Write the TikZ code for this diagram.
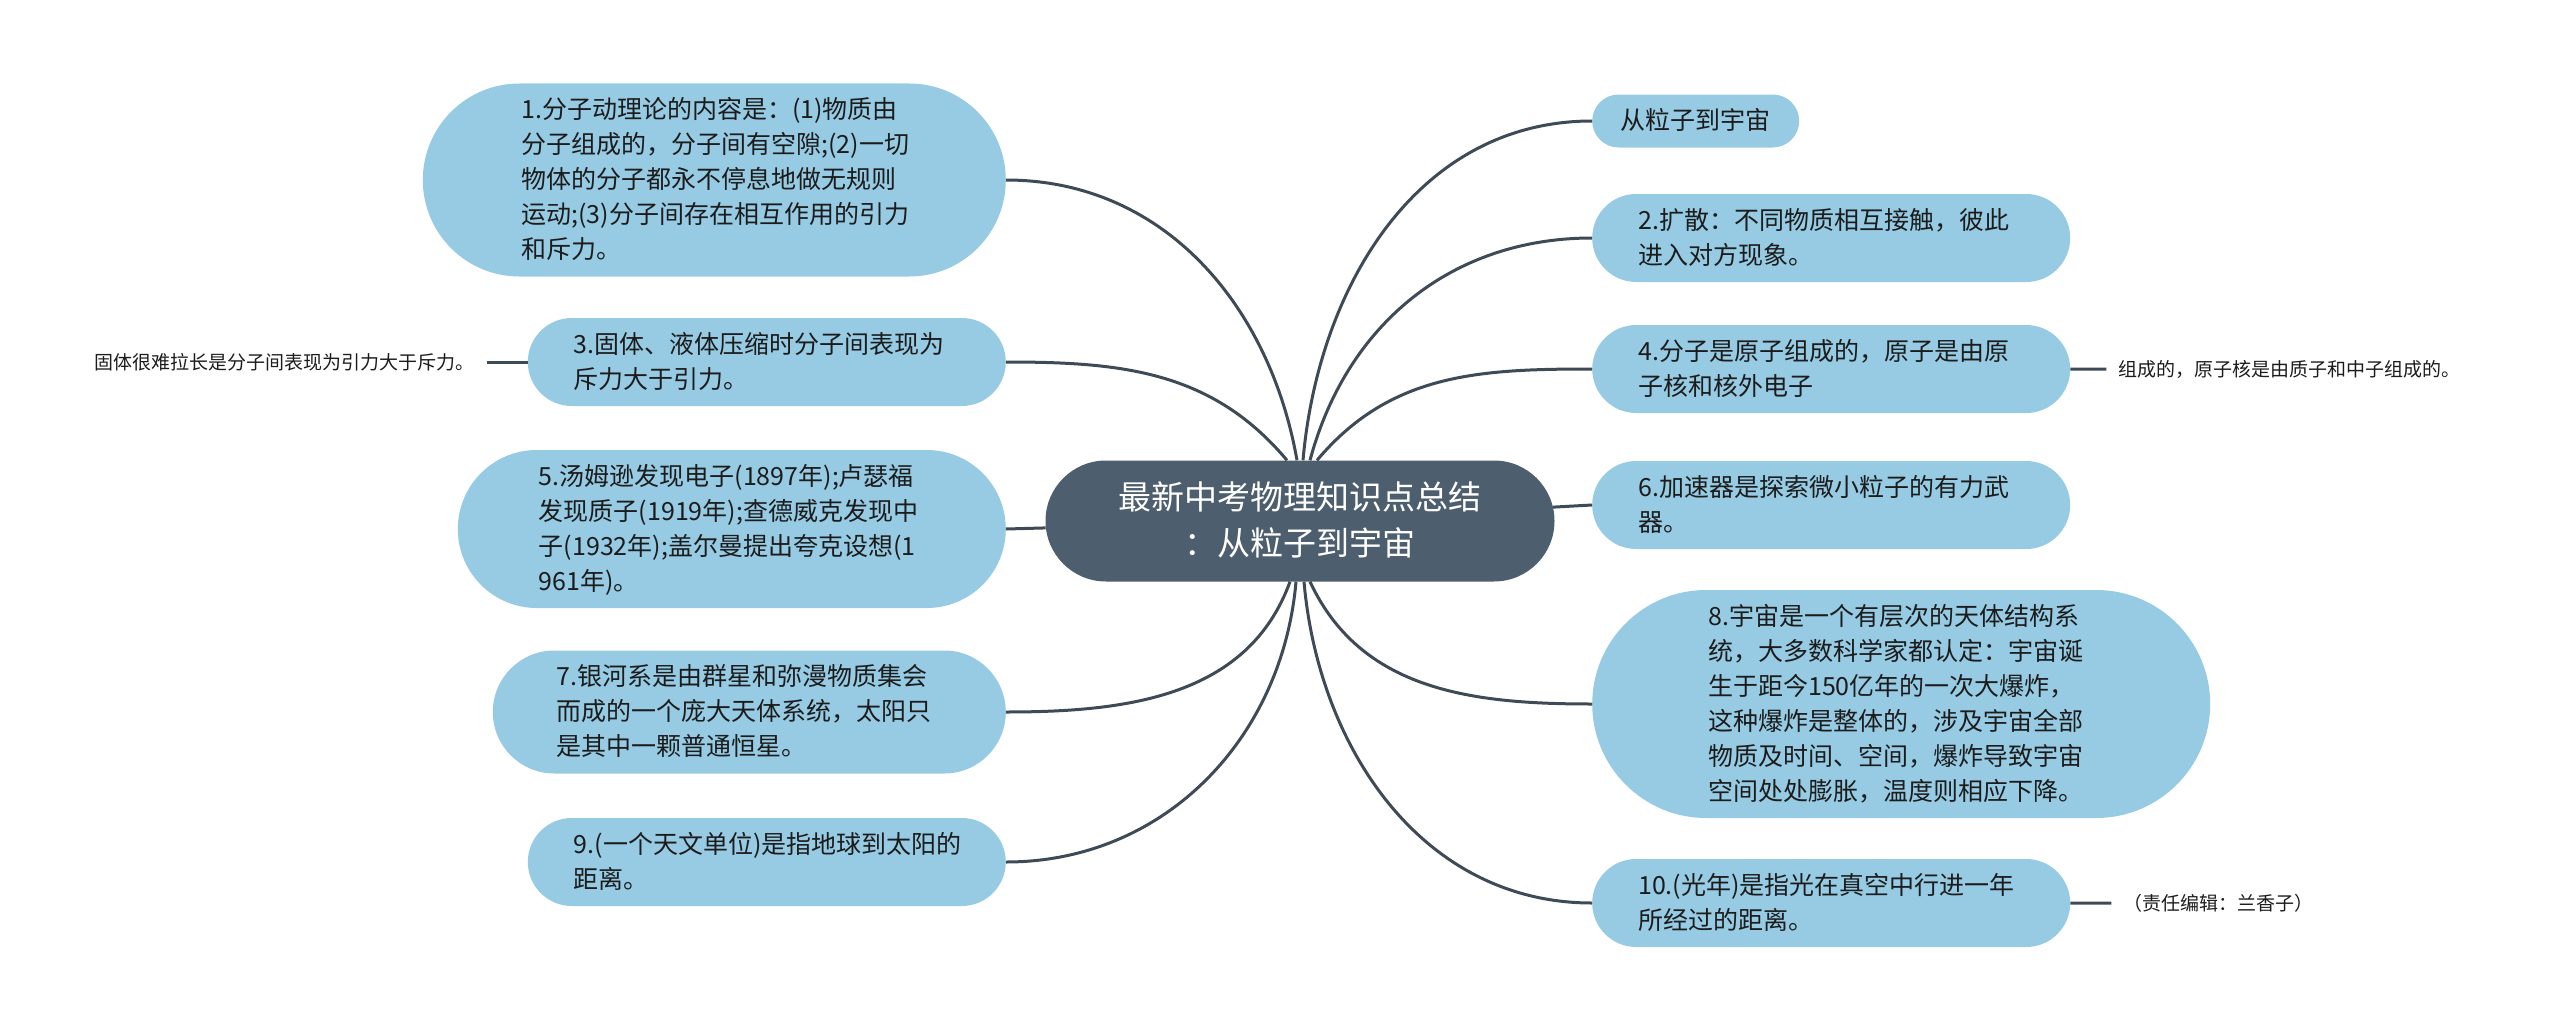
\documentclass[tikz,border=0pt]{standalone}
\usepackage{fontspec}
\setmainfont{Noto Sans CJK SC}
\usetikzlibrary{positioning,shapes.misc}
\definecolor{leafblue}{RGB}{150,203,227}
\definecolor{rootslate}{RGB}{77,94,110}
\definecolor{linkslate}{RGB}{62,74,86}
\definecolor{inkgray}{RGB}{28,28,28}

\begin{document}
\begin{tikzpicture}[x=1pt, y=-1pt, node distance=40pt,
             leaf/.style = {rounded rectangle, fill=leafblue, text=inkgray, inner xsep=2pt, inner ysep=0pt, font=\fontsize{25}{35}\selectfont,
                            execute at begin node=\rule{0pt}{35pt}, execute at end node=\rule[-18pt]{0pt}{0pt}},
             wide/.style = {leaf, text width=386pt, align=left},
              hub/.style = {rounded rectangle, fill=rootslate, text=white, text width=368pt, inner xsep=10pt, inner ysep=0pt, align=center, font=\fontsize{33}{46}\selectfont,
                            execute at begin node=\rule{0pt}{49pt}, execute at end node=\rule[-26pt]{0pt}{0pt}},
             note/.style = {text=inkgray, inner xsep=12pt, font=\fontsize{19}{24}\selectfont},
             link/.style = {draw=linkslate, line width=3pt},
]
\useasboundingbox (0,0) rectangle (2560,1033);
\node [hub] (root) at (1300,521) {最新中考物理知识点总结\\：从粒子到宇宙};
%% left branch
\node [wide, anchor=east] (n1) at (1006,180) {1.分子动理论的内容是：(1)物质由\\分子组成的，分子间有空隙;(2)一切\\物体的分子都永不停息地做无规则\\运动;(3)分子间存在相互作用的引力\\和斥力。};
\node [wide, anchor=east] (n3) at (1006,362) {3.固体、液体压缩时分子间表现为\\斥力大于引力。};
\node [wide, anchor=east] (n5) at (1006,529) {5.汤姆逊发现电子(1897年);卢瑟福\\发现质子(1919年);查德威克发现中\\子(1932年);盖尔曼提出夸克设想(1\\961年)。};
\node [wide, anchor=east] (n7) at (1006,712) {7.银河系是由群星和弥漫物质集会\\而成的一个庞大天体系统，太阳只\\是其中一颗普通恒星。};
\node [wide, anchor=east] (n9) at (1006,862) {9.(一个天文单位)是指地球到太阳的\\距离。};
%% right branch
\node [leaf, anchor=west] (n0)  at (1592,121) {从粒子到宇宙};
\node [wide, anchor=west] (n2)  at (1592,238) {2.扩散：不同物质相互接触，彼此\\进入对方现象。};
\node [wide, anchor=west] (n4)  at (1592,369) {4.分子是原子组成的，原子是由原\\子核和核外电子};
\node [wide, anchor=west] (n6)  at (1592,505) {6.加速器是探索微小粒子的有力武\\器。};
\node [wide, anchor=west] (n8)  at (1592,704) {8.宇宙是一个有层次的天体结构系\\统，大多数科学家都认定：宇宙诞\\生于距今150亿年的一次大爆炸，\\这种爆炸是整体的，涉及宇宙全部\\物质及时间、空间，爆炸导致宇宙\\空间处处膨胀，温度则相应下降。};
\node [wide, anchor=west] (n10) at (1592,903) {10.(光年)是指光在真空中行进一年\\所经过的距离。};
%% side notes
\node [note, left=41pt of n3]   (s3)  {固体很难拉长是分子间表现为引力大于斥力。};
\node [note, right=36pt of n4]  (s4)  {组成的，原子核是由质子和中子组成的。};
\node [note, right=41pt of n10] (s10) {（责任编辑：兰香子）};
%% links
\path[link] ([xshift=-3pt]root.north)  edge[out=100, in=0]   (n1.east)
            ([xshift=-13pt]root.north) edge[out=130, in=0]   (n3.east)
            (n5.east)                  edge                  (root)
            ([xshift=-10pt]root.south) edge[out=-110, in=0]  (n7.east)
            ([xshift=-4pt]root.south)  edge[out=-95, in=0]   (n9.east)
            ([xshift=3pt]root.north)   edge[out=85, in=180]  (n0.west)
            ([xshift=10pt]root.north)  edge[out=75, in=180]  (n2.west)
            ([xshift=17pt]root.north)  edge[out=50, in=180]  (n4.west)
            (n6.west)                  edge                  (root)
            ([xshift=10pt]root.south)  edge[out=-65, in=180] (n8.west)
            ([xshift=4pt]root.south)   edge[out=-85, in=180] (n10.west)
            (n3) edge (s3)
            (n4) edge (s4)
            (n10) edge (s10)
            ;
\end{tikzpicture}
\end{document}
